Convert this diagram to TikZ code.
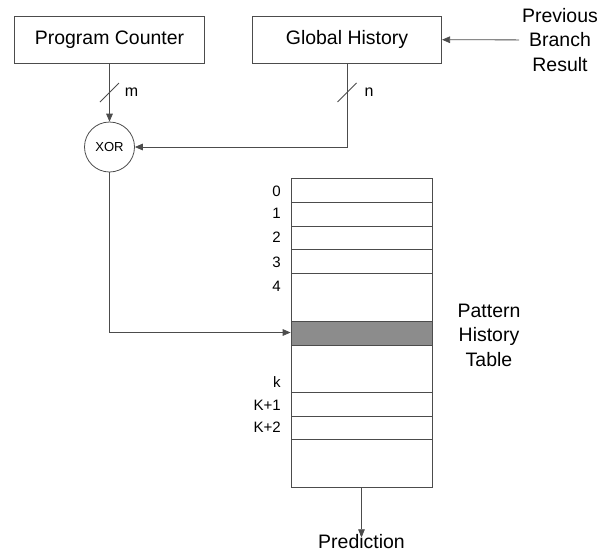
\documentclass[tikz,border=0pt]{standalone}
\usepackage{fontspec}
\setmainfont{Liberation Sans}
\usetikzlibrary{arrows.meta,calc}
\def\mainsize{\fontsize{14.6}{18.4}\selectfont}
\def\labelsize{\fontsize{11.3}{13}\selectfont}
\def\busslash(#1)#2#3{\draw[wire] ($(#1)+(-9.5,9.5)$) -- ($(#1)+(9.5,-9.5)$); \node[buslabel] (#2) at ($(#1)+(22,0)$) {#3};}

\begin{document}
\begin{tikzpicture}[x=0.75pt,y=-0.75pt,
	wire/.style={draw=black!70, line width=0.6pt},
	arr/.style={wire, -{Triangle[length=6pt,width=5pt]}},
	box/.style={wire, minimum width=142pt, minimum height=35.25pt, inner sep=0pt, font=\mainsize},
	plain/.style={align=center, inner sep=2pt, font=\mainsize},
	buslabel/.style={inner sep=0pt, font=\fontsize{12}{14}\selectfont},
	rowlabel/.style={anchor=east, inner sep=0pt, text height=0.72em, text depth=0pt, font=\labelsize}]
			%%%%% START %%%%%
			\useasboundingbox (0,0) rectangle (609,554);
			
			\node[box] (pc) at (109.5, 39.5) {Program Counter};
			\node[box] (gh) at (347, 39.5) {Global History};
			\node[plain] (prev) at (560, 40) {Previous\\Branch\\Result};
			\draw[arr] (prev) -- (gh);
			
			\node[wire, circle, minimum size=37.5pt, inner sep=0pt, font=\fontsize{9.8}{11}\selectfont] (xor) at (109.5, 147) {XOR};
			\draw[arr] (pc) -- (xor);
			\draw[arr] (gh.south) |- (xor.east);
			\busslash(109.5, 92.5){m}{m}
			\busslash(347, 92.5){n}{n}
			
			% table
			\node[wire, minimum width=105.75pt, minimum height=231.75pt, inner sep=0pt] (pht) at (361.5, 332.5) {};
			\fill[black!45] (291, 321) rectangle (432, 345);
			\draw[wire] (291, 321) rectangle (432, 345);
			\foreach \y in {202, 226, 249, 273, 392, 416, 439}
				\draw[wire] (291, \y) -- (432, \y);
			\foreach \y/\t [count=\i] in {192/0, 214/1, 238/2, 263/3, 287/4, 383/k, 406/K+1, 428/K+2}
				\node[rowlabel] (row\i) at (281, \y) {\t};
			\node[plain] (phtname) at (489, 335) {Pattern\\History\\Table};
			
			\draw[arr] (xor.south) |- (pht.west);
			
			\node[plain, inner sep=0pt] (pred) at (361.5, 542) {Prediction};
			\draw[arr] (pht.south) -- ([yshift=-2pt]pred.north);
			%%%%% END %%%%%
\end{tikzpicture}
\end{document}
